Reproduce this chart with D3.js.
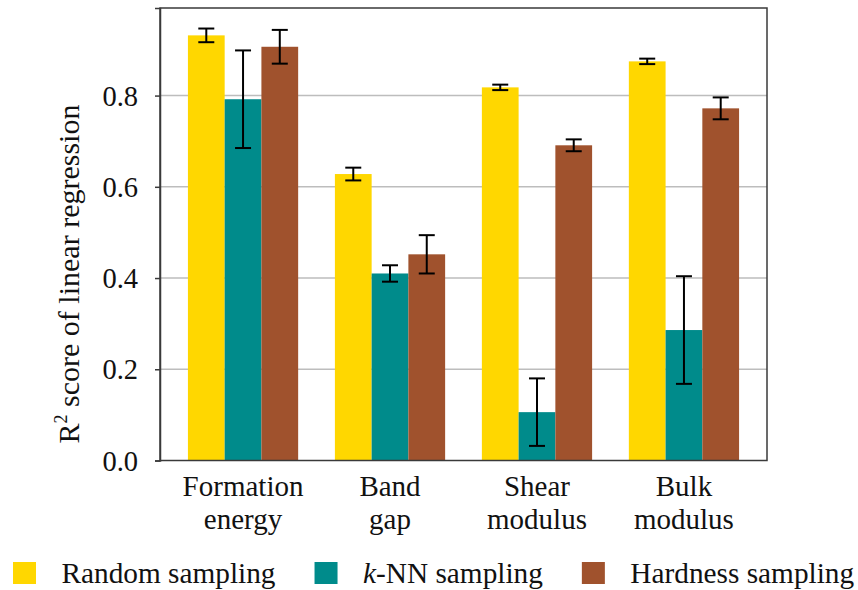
<!DOCTYPE html>
<html>
<head>
<meta charset="utf-8">
<script src="https://cdn.jsdelivr.net/npm/d3@7"></script>
<style>
  html, body { margin: 0; padding: 0; background: #fff; }
  svg text { font-family: "Liberation Serif", Tinos, "Times New Roman", Times, "DejaVu Serif", serif !important; fill: #111; }
</style>
</head>
<body>
<svg id="chart" width="858" height="590" font-family="'Liberation Serif', Tinos, 'DejaVu Serif', serif"></svg>
<script>
// ---- data ----
const categories = ["Formation energy", "Band gap", "Shear modulus", "Bulk modulus"];
const categoryLines = [["Formation", "energy"], ["Band", "gap"], ["Shear", "modulus"], ["Bulk", "modulus"]];
const seriesNames = ["Random sampling", "k-NN sampling", "Hardness sampling"];
const randomValues   = [0.932, 0.628, 0.818, 0.875];
const randomErrors   = [0.015, 0.014, 0.006, 0.006];
const knnValues      = [0.792, 0.410, 0.106, 0.286];
const knnErrors      = [0.107, 0.018, 0.074, 0.118];
const hardnessValues = [0.907, 0.452, 0.691, 0.772];
const hardnessErrors = [0.037, 0.042, 0.013, 0.024];
const yTicks = [0.0, 0.2, 0.4, 0.6, 0.8];
const yTitle = "score of linear regression";

const colors = ["#FFD700", "#008B8B", "#A0522D"];
const seriesValues = [randomValues, knnValues, hardnessValues];
const seriesErrors = [randomErrors, knnErrors, hardnessErrors];

const svg = d3.select("#chart");
const plot = { left: 160, right: 767, top: 8, bottom: 460.5 };

const x0 = d3.scaleBand().domain(categories).range([plot.left, plot.right])
  .paddingInner(0.25).paddingOuter(0.19);
const x1 = d3.scaleBand().domain(seriesNames).range([0, x0.bandwidth()]);
const y = d3.scaleLinear().domain([0, 0.992]).range([plot.bottom, plot.top]);

// gridlines
svg.append("g").selectAll("line").data(yTicks.filter(t => t > 0)).join("line")
  .attr("x1", plot.left).attr("x2", plot.right)
  .attr("y1", d => y(d)).attr("y2", d => y(d))
  .attr("stroke", "#bdbdbd").attr("stroke-width", 1.5);

// bars
const rows = [];
categories.forEach((c, i) => seriesNames.forEach((s, j) => {
  rows.push({ cat: c, ser: s, v: seriesValues[j][i], e: seriesErrors[j][i], color: colors[j] });
}));
svg.append("g").selectAll("rect").data(rows).join("rect")
  .attr("x", d => x0(d.cat) + x1(d.ser))
  .attr("width", x1.bandwidth())
  .attr("y", d => y(d.v))
  .attr("height", d => y(0) - y(d.v))
  .attr("fill", d => d.color);

// error bars
const cap = 8;
const eb = svg.append("g").attr("stroke", "#000").attr("stroke-width", 2);
rows.forEach(d => {
  const cx = x0(d.cat) + x1(d.ser) + x1.bandwidth() / 2;
  eb.append("line").attr("x1", cx).attr("x2", cx).attr("y1", y(d.v + d.e)).attr("y2", y(d.v - d.e));
  eb.append("line").attr("x1", cx - cap).attr("x2", cx + cap).attr("y1", y(d.v + d.e)).attr("y2", y(d.v + d.e));
  eb.append("line").attr("x1", cx - cap).attr("x2", cx + cap).attr("y1", y(d.v - d.e)).attr("y2", y(d.v - d.e));
});

// frame
svg.append("rect").attr("x", plot.left).attr("y", plot.top)
  .attr("width", plot.right - plot.left).attr("height", plot.bottom - plot.top)
  .attr("fill", "none").attr("stroke", "#3a3a3a").attr("stroke-width", 1.5);

// y axis
const yAxis = d3.axisLeft(y).tickValues(yTicks).tickFormat(d3.format(".1f")).tickSize(5).tickPadding(17);
const ya = svg.append("g").attr("transform", `translate(${plot.left},0)`).call(yAxis);
ya.attr("font-family", null).attr("font-size", 28.5);
ya.select(".domain").attr("stroke", "#3a3a3a").attr("stroke-width", 1.5);
ya.selectAll(".tick line").attr("stroke", "#3a3a3a").attr("stroke-width", 1.5);
ya.selectAll(".tick text").attr("fill", "#111").attr("dy", "0.34em");

// x labels
const xl = svg.append("g").attr("font-size", 29);
categories.forEach((c, i) => {
  const cx = x0(c) + x0.bandwidth() / 2;
  const t = xl.append("text").attr("x", cx).attr("y", 496).attr("text-anchor", "middle");
  categoryLines[i].forEach((ln, k) => {
    t.append("tspan").attr("x", cx).attr("dy", k === 0 ? 0 : 33).text(ln);
  });
});

// y title
const yt = svg.append("text")
  .attr("transform", `translate(79,${274}) rotate(-90)`)
  .attr("text-anchor", "middle").attr("font-size", 30);
yt.append("tspan").text("R");
yt.append("tspan").attr("font-size", 18).attr("dy", -12).text("2");
yt.append("tspan").attr("dy", 12).text(" " + yTitle);

// legend
const leg = svg.append("g").attr("font-size", 29.3);
let lx = 13;
seriesNames.forEach((s, j) => {
  leg.append("rect").attr("x", lx).attr("y", 562).attr("width", 23).attr("height", 22).attr("fill", colors[j]);
  const t = leg.append("text").attr("x", lx + 48.5).attr("y", 583);
  if (s.startsWith("k-")) {
    t.append("tspan").attr("font-style", "italic").text("k");
    t.append("tspan").text(s.slice(1));
  } else {
    t.text(s);
  }
  lx = lx + 48.5 + t.node().getComputedTextLength() + 39;
});
</script>
</body>
</html>
